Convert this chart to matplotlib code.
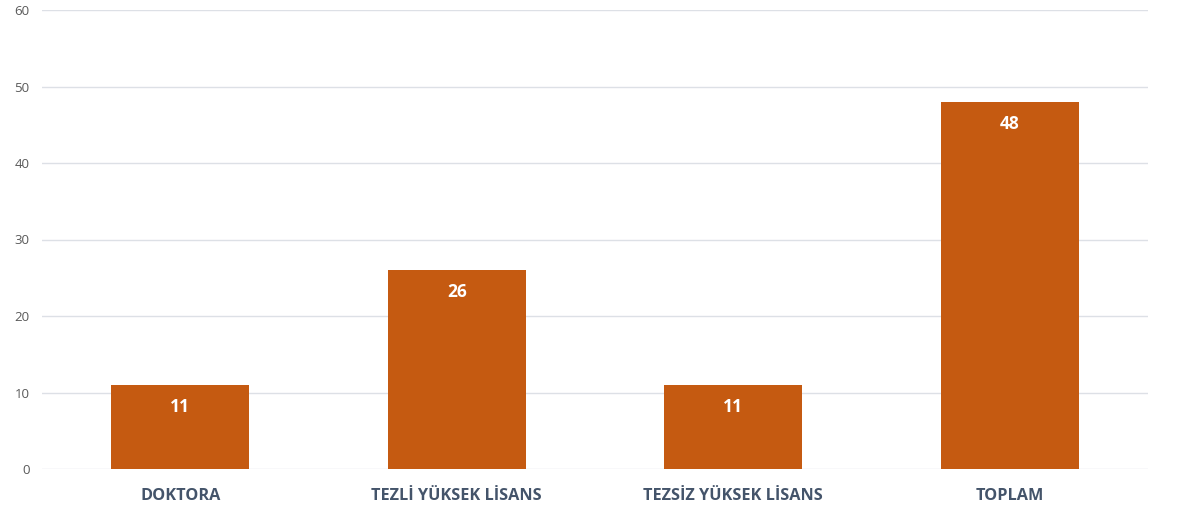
import matplotlib.pyplot as plt

# Data
categories = ['DOKTORA', 'TEZLİ YÜKSEK LİSANS', 'TEZSİZ YÜKSEK LİSANS', 'TOPLAM']
values = [11, 26, 11, 48]
yticks = [0, 10, 20, 30, 40, 50, 60]

plt.rcParams['font.family'] = ['Open Sans', 'DejaVu Sans']

fig = plt.figure(figsize=(11.78, 5.09), dpi=100)
ax = fig.add_axes([42 / 1178, 1 - 469 / 509, (1148 - 42) / 1178, 459 / 509])

x = range(len(categories))
bars = ax.bar(x, values, width=0.5, color='#C55A11', zorder=3)

# Value labels inside bars, near the top
for bar, v in zip(bars, values):
    ax.annotate(str(v), (bar.get_x() + bar.get_width() / 2, v),
                xytext=(0, -22), textcoords='offset pixels',
                ha='center', va='center', color='white', fontsize=12.5, fontweight='bold')

ax.set_xlim(-0.5, 3.5)
ax.set_ylim(0, 60)
ax.set_yticks(yticks)
ax.set_yticklabels([str(t) for t in yticks], color='#595959', fontsize=9.5)
ax.set_xticks(list(x))
ax.set_xticklabels(categories, color='#44546A', fontsize=11.7, fontweight='bold')

ax.grid(axis='y', color='#DDE0E6', linewidth=1, zorder=0)
ax.tick_params(axis='both', length=0)
ax.tick_params(axis='y', pad=9)
ax.tick_params(axis='x', pad=14)
for s in ax.spines.values():
    s.set_visible(False)

fig.savefig('out.png', dpi=100)
